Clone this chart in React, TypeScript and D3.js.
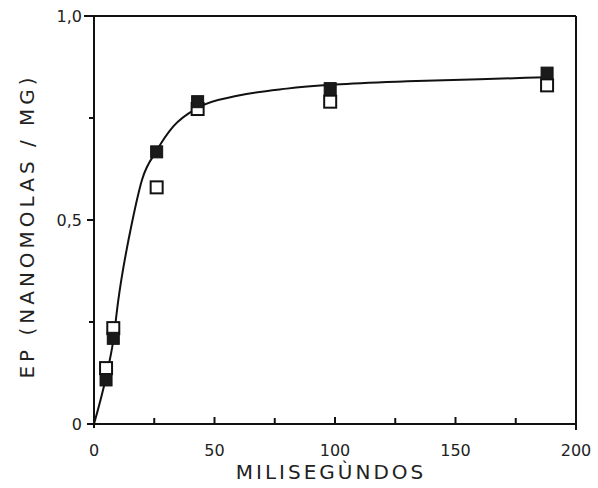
import React from "react";
import * as d3 from "d3";

// valores
const tiempos = [5, 8, 26, 43, 98, 188];
const llenos = [0.108, 0.21, 0.667, 0.79, 0.822, 0.86];
const abiertos = [0.137, 0.235, 0.58, 0.772, 0.79, 0.83];

// curva trazada a mano (leída punto a punto)
const curvaX = [0, 5, 8, 10, 16, 20, 26, 33, 43, 60, 80, 100, 130, 160, 188];
const curvaY = [0, 0.115, 0.205, 0.3, 0.5, 0.6, 0.67, 0.73, 0.775, 0.805, 0.822, 0.832, 0.84, 0.845, 0.85];

const xTicks = [0, 50, 100, 150, 200];
const xMinor = [25, 75, 125, 175];
const yTicks = [0, 0.5, 1];
const yLabels = ["0", "0,5", "1,0"];
const yMinor = [0.25, 0.75];

const W = 598;
const H = 488;
const font = "'DejaVu Sans', Verdana, sans-serif";

const App = () => {
  const x = d3.scaleLinear().domain([0, 200]).range([94, 576]);
  const y = d3.scaleLinear().domain([0, 1]).range([424, 16]);

  const line = d3
    .line<number>()
    .x((d, i) => x(curvaX[i]))
    .y((d) => y(d))
    .curve(d3.curveMonotoneX);

  const sz = 12;

  return (
    <svg
      width={W}
      height={H}
      style={{ position: "absolute", left: 0, top: 0, background: "#fff" }}
    >
      {/* marco */}
      <g stroke="#111" strokeWidth={2} fill="none">
        <line x1={x(0)} x2={x(0)} y1={y(1)} y2={y(0) + 4} />
        <line x1={x(0) - 4} x2={x(200)} y1={y(0)} y2={y(0)} />
        <line x1={x(0) - 10} x2={x(200)} y1={y(1)} y2={y(1)} />
        <line x1={x(200)} x2={x(200)} y1={y(1)} y2={y(0) + 6} />
        {yTicks.map((t) => (
          <line key={"yt" + t} x1={x(0) - 7} x2={x(0)} y1={y(t)} y2={y(t)} />
        ))}
        {yMinor.map((t) => (
          <line key={"ym" + t} x1={x(0) - 5} x2={x(0)} y1={y(t)} y2={y(t)} />
        ))}
        {xTicks.map((t) => (
          <line key={"xt" + t} x1={x(t)} x2={x(t)} y1={y(0)} y2={y(0) - 7} />
        ))}
        {xMinor.map((t) => (
          <line key={"xm" + t} x1={x(t)} x2={x(t)} y1={y(0)} y2={y(0) - 6} />
        ))}
      </g>

      {/* curva */}
      <path d={line(curvaY) || ""} fill="none" stroke="#111" strokeWidth={2} />

      {/* puntos */}
      {tiempos.map((t, i) => (
        <rect
          key={"a" + i}
          x={x(t) - sz / 2}
          y={y(abiertos[i]) - sz / 2}
          width={sz}
          height={sz}
          fill="#fff"
          stroke="#111"
          strokeWidth={2}
        />
      ))}
      {tiempos.map((t, i) => (
        <rect
          key={"l" + i}
          x={x(t) - sz / 2}
          y={y(llenos[i]) - sz / 2}
          width={sz}
          height={sz}
          fill="#1a1a1a"
          stroke="#111"
          strokeWidth={1}
        />
      ))}

      {/* etiquetas */}
      <g fontFamily={font} fill="#222">
        {xTicks.map((t) => (
          <text key={"xl" + t} x={x(t)} y={456} fontSize={16} textAnchor="middle">
            {t}
          </text>
        ))}
        {yTicks.map((t, i) => (
          <text
            key={"yl" + t}
            x={x(0) - 12}
            y={y(t) + 6}
            fontSize={16}
            textAnchor="end"
          >
            {yLabels[i]}
          </text>
        ))}
        <text
          x={331}
          y={479}
          fontSize={20}
          textAnchor="middle"
          letterSpacing={3}
        >
          MILISEGÙNDOS
        </text>
        <text
          transform={`translate(34, 226) rotate(-90)`}
          fontSize={20}
          textAnchor="middle"
          letterSpacing={4}
        >
          EP  (NANOMOLAS / MG)
        </text>
      </g>
    </svg>
  );
};

export default App;
